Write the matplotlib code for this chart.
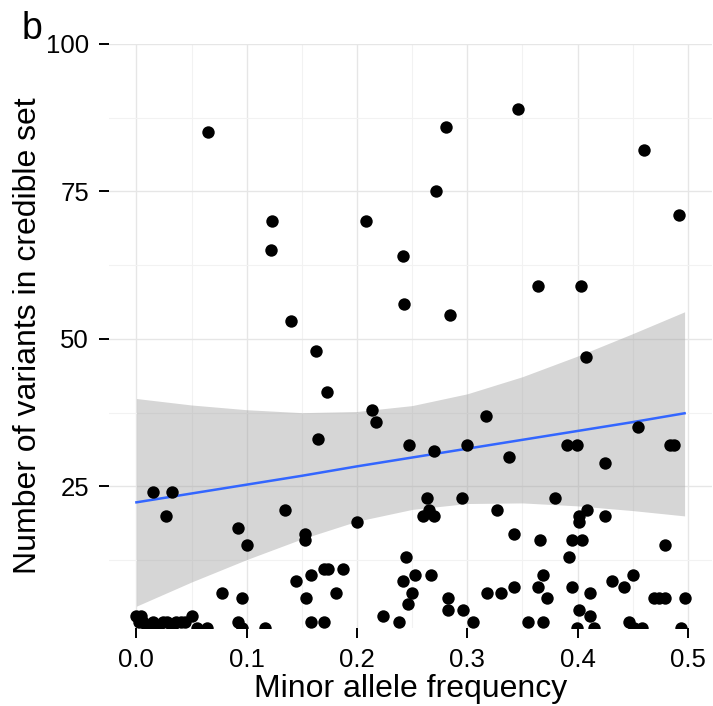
"""Credible set size vs minor allele frequency (panel b)."""
import numpy as np
import matplotlib.pyplot as plt
from matplotlib.ticker import MultipleLocator

plt.rcParams["font.family"] = ["Liberation Sans", "DejaVu Sans"]

# Values
maf = [
    0.065, 0.123, 0.208, 0.122, 0.242, 0.243, 0.140, 0.346, 0.2805, 0.460,
    0.272, 0.492, 0.284, 0.364, 0.403, 0.163, 0.173, 0.214, 0.217, 0.165,
    0.2475, 0.015, 0.032, 0.027, 0.135, 0.0925, 0.1006, 0.153, 0.153, 0.200,
    0.244, 0.253, 0.242, 0.250, 0.246, 0.224, 0.238, 0.158, 0.145, 0.170,
    0.174, 0.187, 0.181, 0.154, 0.158, 0.170, 0.0775, 0.096, 0.092, 0.096,
    0.050, 0.117,
    0.408, 0.3165, 0.4547, 0.270, 0.2994, 0.3375, 0.390, 0.3997, 0.484, 0.4877,
    0.425, 0.2634, 0.2952, 0.3793, 0.260, 0.2652, 0.270, 0.3267, 0.4087, 0.401,
    0.4015, 0.425, 0.3423, 0.3658, 0.3952, 0.4042, 0.4796, 0.3919, 0.2673, 0.2826,
    0.2826, 0.2964, 0.3054, 0.3174, 0.3306, 0.3426, 0.3546, 0.3688, 0.3637, 0.3688,
    0.3727, 0.3949, 0.4015, 0.4108, 0.4108, 0.399, 0.415, 0.431, 0.442, 0.450,
    0.4465, 0.451, 0.458, 0.469, 0.474, 0.479, 0.497, 0.494,
    0.000, 0.002, 0.004, 0.006, 0.010, 0.015, 0.020, 0.024, 0.028, 0.032,
    0.036, 0.040, 0.044, 0.055, 0.064,
]
n_variants = [
    85, 70, 70, 65, 64, 56, 53, 89, 86, 82,
    75, 71, 54, 59, 59, 48, 41, 38, 36, 33,
    32, 24, 24, 20, 21, 18, 15, 17, 16, 19,
    13, 10, 9, 7, 5, 3, 2, 10, 9, 11,
    11, 11, 7, 6, 2, 2, 7, 6, 2, 1,
    3, 1,
    47, 37, 35, 31, 32, 30, 32, 32, 32, 32,
    29, 23, 23, 23, 20, 21, 20, 21, 21, 20,
    19, 20, 17, 16, 16, 16, 15, 13, 10, 6,
    4, 4, 2, 7, 7, 8, 2, 2, 8, 10,
    6, 8, 4, 7, 3, 1, 1, 9, 8, 10,
    2, 1, 1, 6, 6, 6, 6, 1,
    3, 2, 3, 2, 1, 2, 1, 2, 2, 1,
    2, 2, 2, 1, 1,
]

# Linear smoother and its 95% band (the fit also uses
# points above the plotted range, so it cannot be rebuilt from the dots)
smooth_x = [0.0, 0.05, 0.1, 0.15, 0.2, 0.25, 0.3, 0.35, 0.4, 0.45, 0.497]
smooth_fit = [22.3, 23.8, 25.3, 26.8, 28.4, 29.9, 31.4, 32.9, 34.4, 35.9, 37.4]
smooth_lower = [4.7, 8.8, 12.6, 16.1, 19.1, 21.1, 22.1, 22.2, 21.7, 20.9, 20.0]
smooth_upper = [39.9, 38.8, 38.0, 37.5, 37.7, 38.7, 40.7, 43.6, 47.1, 50.9, 54.6]

x_ticks = [0.0, 0.1, 0.2, 0.3, 0.4, 0.5]
y_ticks = [25, 50, 75, 100]


def main():
    x = np.array(maf)
    y = np.array(n_variants, dtype=float)

    fig = plt.figure(figsize=(7.13, 7.06), dpi=100)
    ax = fig.add_axes([0.1529, 0.1105, 0.8457, 0.8272])

    ax.fill_between(smooth_x, smooth_lower, smooth_upper, color="#999999",
                    alpha=0.4, lw=0, zorder=2)
    ax.plot(smooth_x, smooth_fit, color="#3366FF", lw=1.8, zorder=3)
    ax.scatter(x, y, s=80, color="black", lw=0, zorder=4)

    span = x.max() - x.min()
    ax.set_xlim(x.min() - 0.05 * span, x.max() + 0.05 * span)
    ax.set_ylim(1, 100)

    ax.set_xticks(x_ticks)
    ax.set_yticks(y_ticks)
    ax.xaxis.set_minor_locator(MultipleLocator(0.05))
    ax.yaxis.set_minor_locator(MultipleLocator(12.5))
    ax.grid(which="major", color="#E6E6E6", lw=1.0, zorder=0)
    ax.grid(which="minor", color="#F2F2F2", lw=0.8, zorder=0)
    ax.set_axisbelow(True)
    for spine in ax.spines.values():
        spine.set_visible(False)
    ax.tick_params(which="major", length=7.5, width=1.4, color="black",
                   labelsize=18.5, pad=7, labelcolor="black")
    ax.tick_params(which="minor", length=0)

    ax.set_xlabel("Minor allele frequency", fontsize=23, labelpad=1)
    ax.set_ylabel("Number of variants in credible set", fontsize=23, labelpad=2)
    fig.text(0.03, 0.985, "b", fontsize=27, va="top", ha="left")

    fig.savefig("out.png", dpi=100)
    plt.close(fig)


if __name__ == "__main__":
    main()
